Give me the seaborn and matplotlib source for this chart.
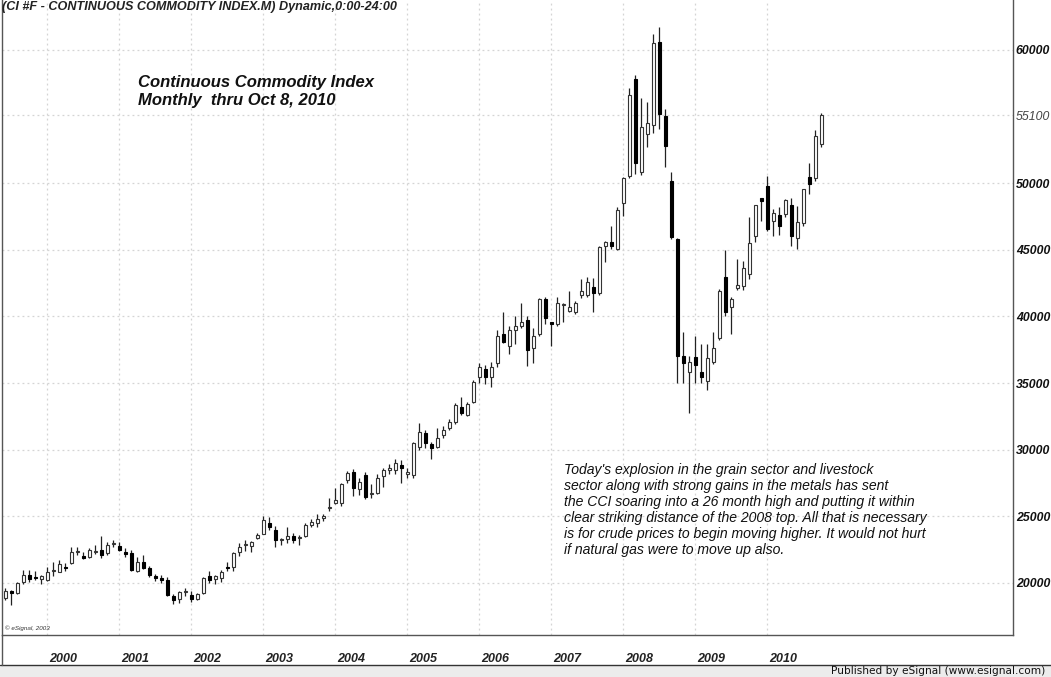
import matplotlib
matplotlib.use("Agg")
import matplotlib.pyplot as plt
import seaborn as sns
import numpy as np
import pandas as pd
from matplotlib.lines import Line2D
from matplotlib.patches import Rectangle

# ---- data: monthly OHLC, Jun 1999 .. Oct 2010 ----
start_month = "1999-06"
opens = [
    18870, 19400, 19250, 20050, 20600, 20450, 20300,
    20230, 20900, 20830, 21200, 21500, 22300, 22050, 21950, 22300, 22480, 22250, 22900,
    22780, 22300, 22250, 20900, 21580, 21130, 20530, 20400, 20230, 19020, 18800, 19350,
    19100, 18800, 19250, 20530, 20300, 20380, 21200, 21200, 22330, 22850, 22780, 23380,
    23700, 24510, 23980, 23230, 23300, 23530, 23380, 23530, 24360, 24500, 24900, 25600,
    26000, 26000, 27740, 28350, 27070, 28120, 26700, 26770, 28000, 28500, 28500, 28870,
    28200, 28120, 30230, 31280, 30450, 30230, 31130, 31650, 32100, 33230, 32630, 33610,
    35490, 36090, 35490, 36540, 38650, 37750, 38950, 39250, 39700, 37600, 38720, 41350,
    39550, 39400, 40850, 40380, 40300, 41580, 41650, 42250, 41800, 45260, 45560, 45100,
    48500, 50530, 57820, 50830, 53690, 54360, 60600, 55040, 50150, 45790, 37000, 35860,
    36990, 35860, 35190, 36620, 38420, 42930, 40750, 42110, 42260, 43160, 46020, 48870,
    49770, 47140, 47590, 47670, 48350, 45860, 46990, 50450, 50380, 52930,
]
highs = [
    19620, 19500, 20050, 20980, 20980, 20900, 20600,
    21200, 21600, 21700, 21500, 22700, 22700, 22330, 22600, 22850, 23530, 23050, 23250,
    23050, 22600, 22480, 21950, 22100, 21300, 20700, 20600, 20450, 19200, 19400, 19600,
    19400, 19250, 20450, 20900, 20600, 20980, 21580, 22330, 23000, 23200, 23150, 23750,
    25000, 24960, 24300, 23400, 24200, 23750, 23600, 24500, 24800, 25200, 25200, 26400,
    27140, 27500, 28420, 28570, 27900, 28350, 27400, 28200, 28600, 28900, 29300, 29200,
    28600, 30600, 32000, 31500, 30600, 31650, 31800, 32300, 33500, 33980, 33600, 35200,
    36540, 36390, 36620, 38950, 40300, 39320, 40000, 40980, 40000, 39170, 41400, 41500,
    39600, 41500, 41050, 41950, 41200, 42780, 43000, 42900, 45300, 45700, 46770, 48200,
    50450, 57140, 58120, 56390, 56090, 61200, 61730, 55560, 50830, 45900, 38800, 37000,
    38500, 37900, 37900, 38870, 42100, 44960, 41500, 44290, 44140, 47500, 48400, 48900,
    50530, 48050, 48200, 48800, 48870, 48270, 49600, 51500, 54000, 55300,
]
lows = [
    18720, 18350, 19200, 19950, 20100, 20200, 19950,
    20150, 20500, 20800, 20900, 21400, 22100, 21800, 21900, 22200, 21900, 22100, 22700,
    22400, 21950, 20900, 20800, 21050, 20450, 20150, 20000, 19000, 18420, 18500, 19050,
    18600, 18700, 19150, 20000, 19900, 20100, 20900, 20900, 22000, 22400, 22300, 23300,
    23650, 24000, 22700, 22850, 23000, 23000, 22850, 23450, 24200, 24200, 24650, 25400,
    25940, 25800, 27500, 26540, 26600, 26300, 26400, 26700, 27200, 28200, 28200, 27500,
    27900, 27900, 30000, 30150, 29300, 30100, 30900, 31500, 31900, 32600, 32500, 33500,
    35040, 34960, 34740, 36240, 38000, 37220, 37970, 39100, 36320, 36500, 38500, 39470,
    37820, 39300, 39620, 40300, 40200, 41400, 41500, 40300, 41600, 44060, 45100, 45000,
    47520, 50400, 50680, 50600, 52700, 53800, 54060, 51200, 45800, 35040, 35000, 32780,
    35040, 35040, 34510, 36400, 38200, 40000, 38650, 42000, 41960, 42800, 45560, 47140,
    46400, 46020, 46100, 47500, 45260, 45040, 46800, 49170, 50200, 52700,
]
closes = [
    19400, 19250, 20000, 20600, 20300, 20400, 20500,
    20830, 21000, 21430, 21150, 22330, 22350, 21900, 22480, 22380, 22100, 22850, 22950,
    22480, 22180, 20980, 21580, 21130, 20600, 20400, 20250, 19100, 18720, 19320, 19400,
    18800, 19170, 20380, 20230, 20500, 20830, 21100, 22250, 22700, 22900, 23050, 23600,
    24740, 24210, 23230, 23300, 23530, 23230, 23450, 24360, 24590, 24810, 25000, 25700,
    26240, 27440, 28270, 27140, 27600, 26470, 26740, 27900, 28500, 28650, 29000, 28650,
    28350, 30530, 31350, 30530, 30150, 30900, 31500, 32100, 33380, 32780, 33460, 35110,
    36240, 35490, 36240, 38500, 38050, 39020, 39320, 39620, 37520, 38500, 41280, 39920,
    39470, 41050, 40900, 40750, 41050, 41950, 42560, 41800, 45190, 45560, 45260, 48000,
    50380, 56620, 51500, 54210, 54510, 60530, 55180, 52780, 45940, 37070, 36540, 36620,
    36390, 35490, 36920, 37670, 41880, 40300, 41350, 42330, 43610, 45490, 48350, 48700,
    46540, 47750, 46770, 48720, 46020, 47070, 49550, 49920, 53540, 55100,
]
y_ticks = [20000, 25000, 30000, 35000, 40000, 45000, 50000, 55100, 60000]
year_labels = ["2000", "2001", "2002", "2003", "2004", "2005", "2006", "2007",
               "2008", "2009", "2010"]

header = "(CI #F - CONTINUOUS COMMODITY INDEX.M) Dynamic,0:00-24:00"
title_lines = ["Continuous Commodity Index", "Monthly  thru Oct 8, 2010"]
note = ("Today's explosion in the grain sector and livestock\n"
        "sector along with strong gains in the metals has sent\n"
        "the CCI soaring into a 26 month high and putting it within\n"
        "clear striking distance of the 2008 top. All that is necessary\n"
        "is for crude prices to begin moving higher. It would not hurt\n"
        "if natural gas were to move up also.")

df = pd.DataFrame({"open": opens, "high": highs, "low": lows, "close": closes})
df["date"] = pd.period_range(start_month, periods=len(df), freq="M")
df["i"] = np.arange(len(df))
df["up"] = df["close"] >= df["open"]

# ---- style ----
sns.set_theme(style="white")
plt.rcParams["font.family"] = ["Liberation Sans", "DejaVu Sans"]

W, H = 1051, 677
fig = plt.figure(figsize=(W / 100, H / 100), dpi=100)
fig.patch.set_facecolor("white")
ax = fig.add_axes([2 / W, 1 - 635 / H, 1011 / W, 635 / H])
ax.set_facecolor("white")

ax.set_xlim(-0.567, 167.93)
ax.set_ylim(16097, 63752)

# grid
jan_idx = df.index[df["date"].dt.month == 1].to_numpy()
ax.set_xticks(jan_idx)
ax.set_xticklabels([])
ax.set_xticks(jan_idx + 2.6, minor=True)
ax.set_xticklabels(year_labels, minor=True, fontsize=9.0, fontweight="bold",
                   fontstyle="italic", color="#222222")
ax.tick_params(axis="x", which="both", length=0, pad=13)
ax.set_yticks(y_ticks)
ax.yaxis.tick_right()
ax.set_yticklabels([f"{t}" for t in y_ticks], fontsize=8.8, fontweight="bold",
                   fontstyle="italic", color="#111111")
ax.tick_params(axis="y", length=0, pad=2)
for lbl, t in zip(ax.get_yticklabels(), y_ticks):
    if t == 55100:
        lbl.set_fontweight("normal")
        lbl.set_color("#444444")
ax.grid(True, which="major", axis="both", color="#d4d4d4",
        linestyle=(0, (1.5, 2.5)), linewidth=0.9)
ax.set_axisbelow(True)

for s in ["top"]:
    ax.spines[s].set_visible(False)
for s in ["left", "right", "bottom"]:
    ax.spines[s].set_color("#555555")
    ax.spines[s].set_linewidth(1.0)

# ---- candles ----
w = 0.62
ax.vlines(df["i"], df["low"], df["high"], color="#222222", linewidth=0.9, zorder=2)
body_bottom = np.minimum(df["open"], df["close"])
body_h = np.maximum(np.abs(df["close"] - df["open"]), 70)
up = df["up"].to_numpy()
ax.bar(df["i"][up], body_h[up], bottom=body_bottom[up], width=w,
       facecolor="white", edgecolor="#333333", linewidth=0.8, zorder=3)
ax.bar(df["i"][~up], body_h[~up], bottom=body_bottom[~up], width=w,
       facecolor="black", edgecolor="black", linewidth=0.8, zorder=3)

# ---- texts ----
ax.text(0.0, 1 - 7 / 635, header, transform=ax.transAxes, ha="left", va="center",
        fontsize=9.1, fontweight="bold", fontstyle="italic", color="#222222")
ax.text((138 - 2) / 1011, 1 - 83 / 635, title_lines[0], transform=ax.transAxes,
        ha="left", va="center", fontsize=12.0, fontweight="bold",
        fontstyle="italic", color="#111111")
ax.text((138 - 2) / 1011, 1 - 101 / 635, title_lines[1], transform=ax.transAxes,
        ha="left", va="center", fontsize=12.0, fontweight="bold",
        fontstyle="italic", color="#111111")
ax.text((564 - 2) / 1011, 1 - 463 / 635, note, transform=ax.transAxes,
        ha="left", va="top", fontsize=10.1, fontstyle="italic",
        color="#111111", linespacing=1.19)
ax.text(3 / 1011, 1 - 628 / 635, "\u00a9 eSignal, 2003", transform=ax.transAxes,
        ha="left", va="center", fontsize=4.5, fontstyle="italic", color="#333333")

# ---- footer strip ----
fig.add_artist(Rectangle((0, 0), 1, 11 / H, transform=fig.transFigure,
                         facecolor="#ececec", edgecolor="none", zorder=0))
fig.add_artist(Line2D([0, 1], [1 - 664.5 / H] * 2, transform=fig.transFigure,
                      color="#333333", linewidth=1.0))
fig.add_artist(Line2D([2 / W, 2 / W], [1 - 664.5 / H, 1 - 635 / H],
                      transform=fig.transFigure, color="#555555", linewidth=1.0))
fig.text(1045 / W, 1 - 671 / H, "Published by eSignal (www.esignal.com)",
         ha="right", va="center", fontsize=7.6, color="#111111",
         family=["DejaVu Sans"])

fig.savefig("out.png", dpi=100, facecolor="white")
